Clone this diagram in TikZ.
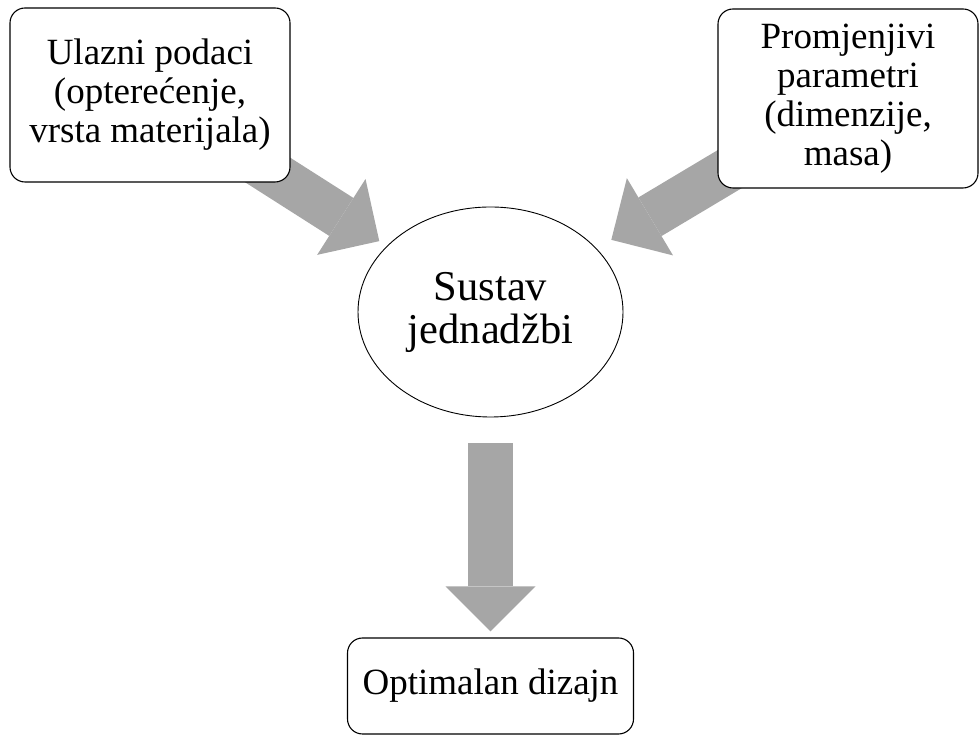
\documentclass[tikz,border=0pt]{standalone}
\usepackage{fontspec}
\setmainfont{Liberation Serif}
\usetikzlibrary{arrows.meta,shapes.geometric,backgrounds}
\definecolor{siva}{RGB}{166,166,166}

\begin{document}
\begin{tikzpicture}[x=1pt, y=1pt,
    kutija/.style={draw, line width=1.1pt, rounded corners=15pt, fill=white, align=center,
        inner sep=0pt, font=\fontsize{37}{39}\selectfont},
    strelica/.style={draw=siva, line width=45pt, -{Triangle[length=45pt, width=90pt, line width=0pt]}}]
    \useasboundingbox (0,0) rectangle (979,735);

    % Ulazi
    \node[kutija, minimum width=280pt, minimum height=174pt] (ulaz) at (150,640)
        {Ulazni podaci\\(opterećenje,\\vrsta materijala)};
    \node[kutija, minimum width=260pt, minimum height=179pt] (param) at (848,636.5)
        {Promjenjivi\\parametri\\(dimenzije,\\masa)};

    % Sustav
    \node[draw, ellipse, line width=0.9pt, fill=white, inner sep=0pt, minimum width=265pt,
        minimum height=210pt, align=center, font=\fontsize{42.5}{43}\selectfont] (sustav) at (490.5,423)
        {Sustav\\jednadžbi};

    % Izlaz
    \node[kutija, minimum width=286pt, minimum height=96pt] (dizajn) at (490.5,49) {Optimalan dizajn};

    % Strelice
    \begin{scope}[on background layer]
        \draw[strelica, shorten >=9pt] (ulaz.center) -- (sustav);
        \draw[strelica, shorten >=17pt] (param.center) -- (sustav);
    \end{scope}
    \draw[strelica, shorten <=26pt, shorten >=6pt] (sustav) -- (dizajn);

\end{tikzpicture}
\end{document}
